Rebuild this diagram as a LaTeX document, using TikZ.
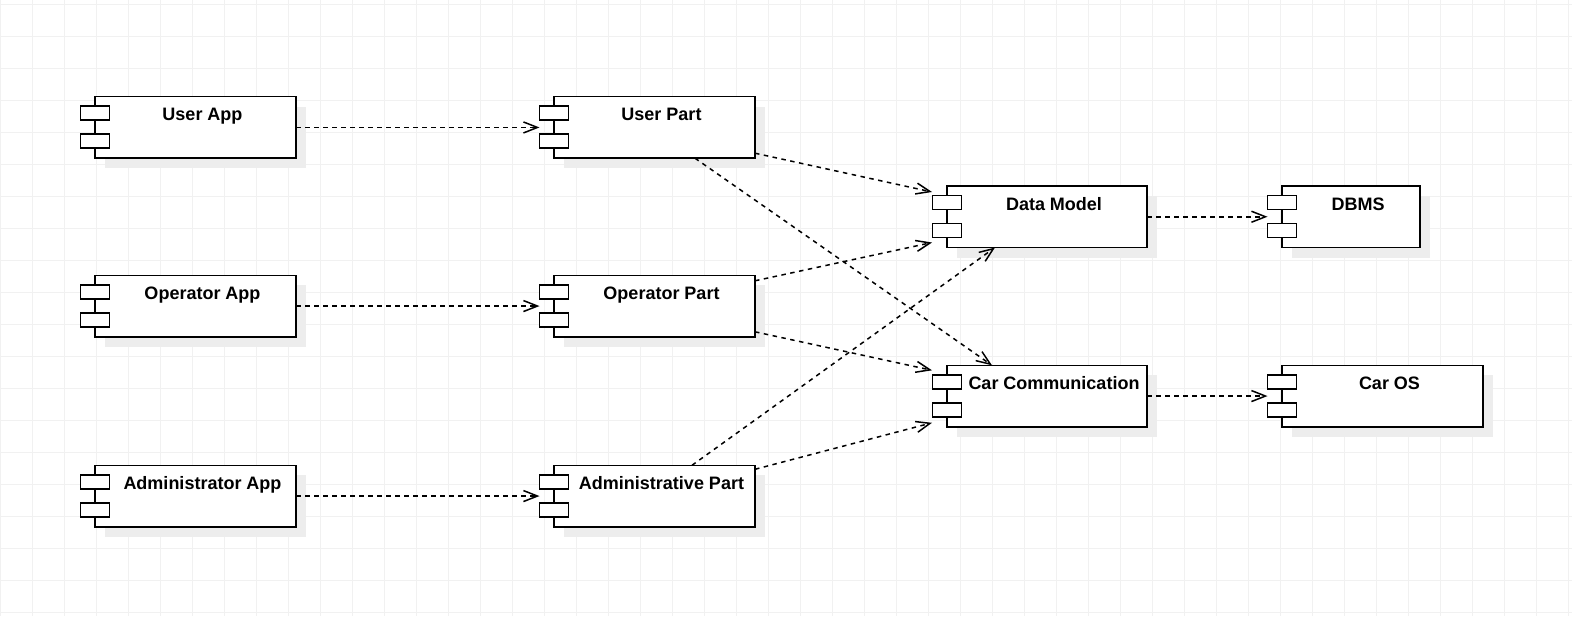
\documentclass[tikz,border=0pt]{standalone}
\usepackage{fontspec}
\setmainfont{Liberation Sans}
\usetikzlibrary{arrows.meta,calc}
\definecolor{gridc}{HTML}{F1F1F1}
\definecolor{shadowc}{HTML}{EDEDED}
\tikzset{
  box/.style={draw=black, fill=white, line width=1.5pt, minimum height=61.5pt, inner sep=0pt, outer sep=0pt},
  jetty/.style={draw=black, fill=white, line width=1.5pt},
  lbl/.style={anchor=base, inner sep=0pt, font=\fontsize{18}{21.6}\selectfont\bfseries},
  dep/.style={draw=black, line width=1.5pt, dash pattern=on 4.5pt off 4.5pt,
    -{Straight Barb[length=14pt,width=11pt,line width=1.5pt]}},
}
\newcommand\umlcomp[5]{%
  \fill[shadowc] (#2+10,#3+10) rectangle ++(#4,61.5);
  \node[box, minimum width=#4pt, anchor=north west] (#1) at (#2,#3) {};
  \draw[jetty] ($(#1.north west)+(-14.5,9.5)$) rectangle ++(29,14);
  \draw[jetty] ($(#1.north west)+(-14.5,37.5)$) rectangle ++(29,14);
  \node[lbl] (#1-t) at ($(#1.north)+(7,24)$) {#5};
}
\begin{document}
\begin{tikzpicture}[x=1pt,y=-1pt]
\useasboundingbox (0,0) rectangle (1572,616);
\fill[white] (0,0) rectangle (1572,616);
% grid
\foreach \gx in {0,32,...,1568} \draw[gridc, line width=1pt] (\gx,0) -- (\gx,616);
\foreach \gy in {4,36,...,612} \draw[gridc, line width=1pt] (0,\gy) -- (1572,\gy);
% components
\umlcomp{ua}{95}{96.7}{201}{User App}
\umlcomp{oa}{95}{275.3}{201}{Operator App}
\umlcomp{aa}{95}{465.3}{201}{Administrator App}
\umlcomp{up}{554}{96.7}{201}{User Part}
\umlcomp{op}{554}{275.3}{201}{Operator Part}
\umlcomp{ap}{554}{465.3}{201}{Administrative Part}
\umlcomp{dm}{947}{186}{200}{Data Model}
\umlcomp{cc}{947}{365.3}{200}{Car Communication}
\umlcomp{db}{1282}{186}{138}{DBMS}
\umlcomp{os}{1282}{365.3}{201}{Car OS}
% connectors
\draw[dep] (ua.east) -- ($(up.west)+(-14.5,0)$);
\draw[dep] (oa.east) -- ($(op.west)+(-14.5,0)$);
\draw[dep] (aa.east) -- ($(ap.west)+(-14.5,0)$);
\draw[dep] (dm.east) -- ($(db.west)+(-14.5,0)$);
\draw[dep] (cc.east) -- ($(os.west)+(-14.5,0)$);
\draw[dep] ($(up.south east)+(0,-5)$) -- ($(dm.north west)+(-15,6)$);
\draw[dep] ($(up.south west)+(141,0)$) -- ($(cc.north west)+(45,0)$);
\draw[dep] ($(op.north east)+(0,5.5)$) -- ($(dm.south west)+(-15,-5)$);
\draw[dep] ($(op.south east)+(0,-5)$) -- ($(cc.north west)+(-15,5)$);
\draw[dep] ($(ap.north west)+(138,0)$) -- ($(dm.south west)+(48,0)$);
\draw[dep] ($(ap.north east)+(0,4)$) -- ($(cc.south west)+(-15,-4)$);
\end{tikzpicture}
\end{document}
